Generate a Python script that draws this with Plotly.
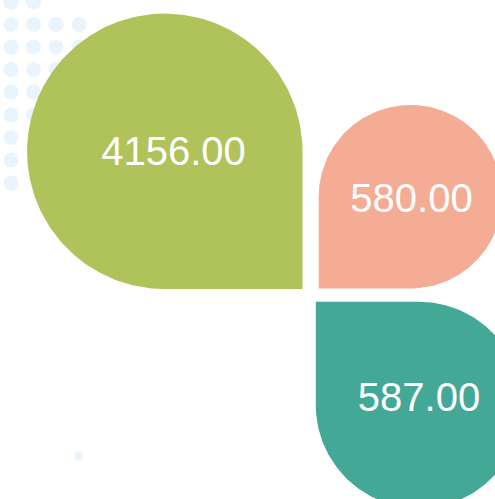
import numpy as np
import plotly.graph_objects as go

# ---- data ----
labels = ["4156.00", "580.00", "587.00"]
values = [4156, 580, 587]
colors = ["#AFC35A", "#F4AD94", "#43A896"]

# ---- layout geometry (pixel space, y grows downward) ----
centers_x = [164.8, 410.5, 419.0]
centers_y = [151.3, 196.7, 405.0]
radii = [137.7, 91.8, 103.2]
# which corner is square: (sx, sy) direction of the sharp corner
corners = [(1, 1), (-1, 1), (-1, -1)]
text_x = [173.5, 411.5, 419]
text_y = [155, 202, 401]

W, H = 495, 499

def teardrop(cx, cy, r, sx, sy, n=200):
    qa = np.arctan2(sy, sx) - np.pi / 4  # start of the squared quadrant
    t = np.linspace(qa + np.pi / 2, qa + 2 * np.pi, n)
    xs = list(cx + r * np.cos(t))
    ys = list(cy + r * np.sin(t))
    xs.append(cx + sx * r)
    ys.append(cy + sy * r)
    xs.append(xs[0])
    ys.append(ys[0])
    return xs, ys

fig = go.Figure()

# decorative dot grid
dot_x, dot_y = [], []
col_x = [11, 33.5, 56, 79]
row_y = [2, 24.5, 47, 69.5, 92, 115, 137.5, 160, 183]
for i, yy in enumerate(row_y):
    cols = col_x[:2] if i == 0 else (col_x if i < 4 else col_x[:2] if i < 6 else col_x[:1])
    for xx in cols:
        dot_x.append(xx)
        dot_y.append(yy)
fig.add_trace(go.Scatter(x=dot_x, y=dot_y, mode="markers",
                         marker=dict(size=15, color="#EAF4FD", line=dict(width=0)),
                         hoverinfo="skip", showlegend=False))
fig.add_trace(go.Scatter(x=[79], y=[456], mode="markers",
                         marker=dict(size=9, color="#EAF4FD", line=dict(width=0)),
                         hoverinfo="skip", showlegend=False))

for i in range(len(values)):
    xs, ys = teardrop(centers_x[i], centers_y[i], radii[i], *corners[i])
    fig.add_trace(go.Scatter(x=xs, y=ys, mode="lines", fill="toself",
                             fillcolor=colors[i], line=dict(width=0, color=colors[i]),
                             hoverinfo="skip", showlegend=False))

fig.add_trace(go.Scatter(x=text_x, y=text_y, mode="text", text=labels,
                         textposition="middle center",
                         textfont=dict(size=40, color="white",
                                       family="Liberation Sans, Arial, sans-serif"),
                         hoverinfo="skip", showlegend=False))

fig.update_layout(
    width=W, height=H,
    margin=dict(l=0, r=0, t=0, b=0),
    paper_bgcolor="white", plot_bgcolor="white",
    xaxis=dict(range=[0, W], visible=False, fixedrange=True),
    yaxis=dict(range=[H, 0], visible=False, fixedrange=True),
    showlegend=False,
)

fig.write_html("out.html", config={"displayModeBar": False})
